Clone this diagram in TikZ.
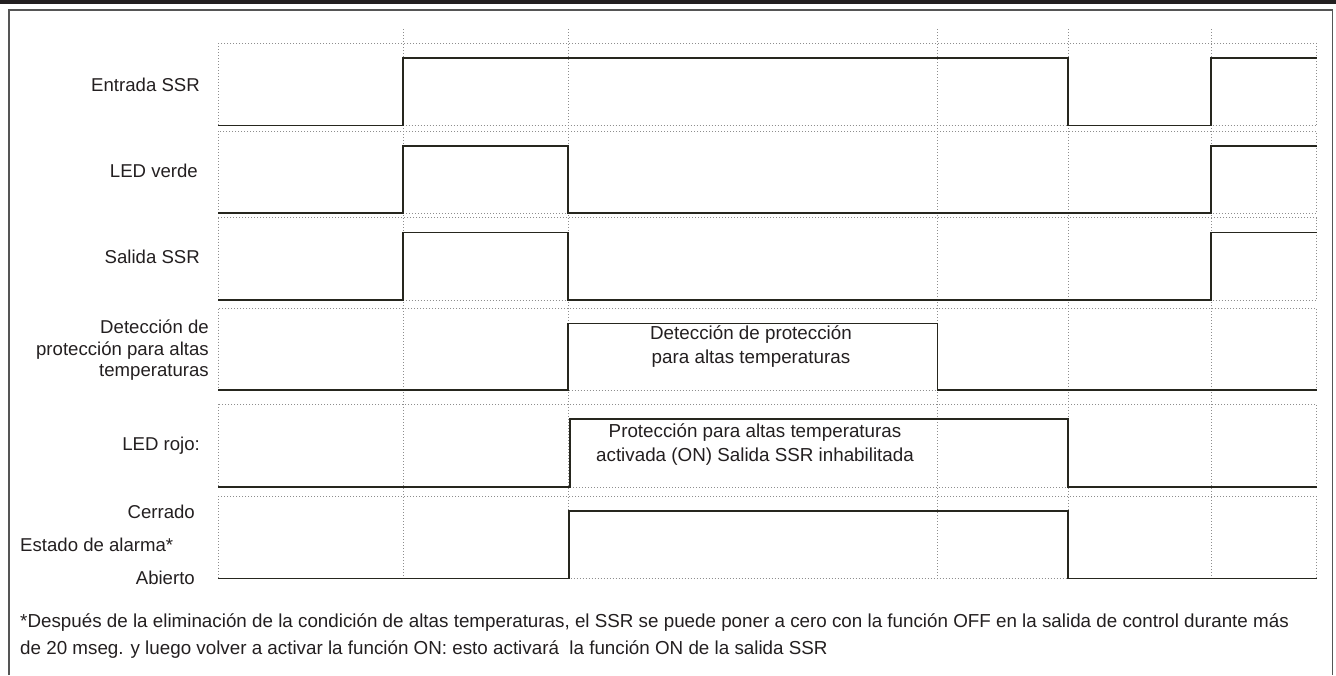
\documentclass[tikz,border=0pt]{standalone}
\usepackage{fontspec}
\setmainfont{Liberation Sans}
\usepackage{tikz}
\usetikzlibrary{positioning,calc}
\usepackage{xcolor}
\definecolor{ink}{HTML}{231F20}
\definecolor{wave}{HTML}{26261E}
\definecolor{grid}{HTML}{8E8E8E}
\definecolor{frame}{HTML}{555555}

\begin{document}
\begin{tikzpicture}[x=1pt, y=-1pt,
  every node/.style={font=\fontsize{18.6}{21.5}\selectfont, text=ink, inner sep=0pt},
  lbl/.style={anchor=east, align=right},
  gridline/.style={draw=grid, line width=0.8pt, dash pattern=on 1pt off 2pt},
  sig/.style={draw=wave, line width=1.3pt, line join=miter},
  pulsetext/.style={align=center, font=\fontsize{18.8}{23.2}\selectfont},
  note/.style={anchor=west, align=left, font=\fontsize{18.8}{27}\selectfont}
]
  \useasboundingbox (0,0) rectangle (1336,675);

  % page rule and frame
  \fill[ink] (0,0) rectangle (1336,3.5);
  \draw[frame, line width=1.5pt] (9,675) |- (1332.5,10) -- (1332.5,675);

  % rows: top / bottom
  \foreach \t/\b in {43/125.5, 131/213, 217.5/300, 308.5/390, 404/487, 496/578.5}
    \draw[gridline] (218,\t) rectangle (1316.5,\b);

  % time marks
  \foreach \x in {403, 568, 937.5, 1068, 1211}
    \draw[gridline] (\x,29) -- (\x,580);

  % waveforms
  \draw[sig] (218,125.5) -| (403,58) -| (1068,125.5) -| (1211,58) -- (1316.5,58);
  \draw[sig] (218,213) -| (403,146) -| (568,213) -| (1211,146) -- (1316.5,146);
  \draw[sig] (218,300) -| (403,232.5) -| (568,300) -| (1211,232.5) -- (1316.5,232.5);
  \draw[sig] (218,390) -| (568,323.5) -| (937.5,390) -- (1316.5,390);
  \draw[sig] (218,487) -| (570,419) -| (1068,487) -- (1316.5,487);
  \draw[sig] (218,578.5) -| (569,511) -| (1068,578.5) -- (1316.5,578.5);

  % signal names
  \node[lbl] (entrada) at (200,85) {Entrada SSR};
  \node[lbl] (verde)   at (198,170.5) {LED verde};
  \node[lbl] (salida)  at (200,256.5) {Salida SSR};
  \node[lbl] (deteccion) at (209,350.5) {Detección de\\protección para altas\\temperaturas};
  \node[lbl] (rojo)    at (200,445.5) {LED rojo:};
  \node[lbl] (cerrado) at (195,511.5) {Cerrado};
  \node[anchor=west] (alarma) at (20,544.5) {Estado de alarma*};
  \node[lbl] (abierto) at (195,577.5) {Abierto};

  % texts inside pulses
  \node[pulsetext] (detpulse) at (751,346.5) {Detección de protección\\para altas temperaturas};
  \node[pulsetext] (protpulse) at (755,444.5) {Protección para altas temperaturas\\activada (ON) Salida SSR inhabilitada};

  % footnote
  \node[note] (nota) at (20,636.5) {*Después de la eliminación de la condición de altas temperaturas, el SSR se puede poner a cero con la función OFF en la salida de control durante más\\de 20 mseg. y luego volver a activar la función ON: esto activará\ \ la función ON de la salida SSR};
\end{tikzpicture}
\end{document}
